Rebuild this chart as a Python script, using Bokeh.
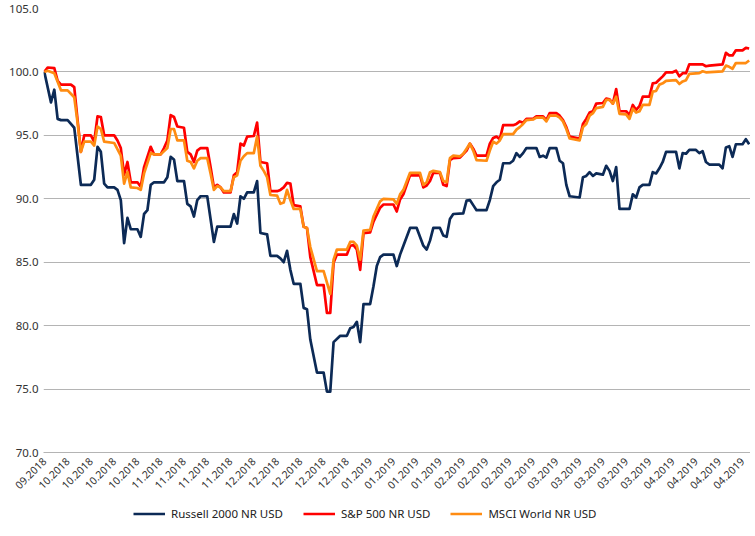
import math
from datetime import datetime, timedelta
from bokeh.plotting import figure
from bokeh.layouts import column
from bokeh.models import (Range1d, FixedTicker, DatetimeTickFormatter, NumeralTickFormatter,
                          Legend, LegendItem, ColumnDataSource)
from bokeh.embed import file_html
from bokeh.resources import INLINE

START = datetime(2018, 9, 30)

# ---- data (day offset from START, index level) ----
russell_days = [0, 2, 3, 4, 5, 7, 8, 9, 11, 14, 15, 16, 17, 18, 19, 21, 22, 23, 24, 25, 26, 28, 29, 30,
                31, 32, 33, 36, 37, 38, 39, 40, 42, 43, 44, 45, 46, 47, 49, 51, 52, 56, 57, 58, 59, 60,
                61, 63, 64, 65, 67, 68, 70, 71, 72, 73, 74, 75, 77, 78, 79, 80, 82, 84, 85, 86, 87, 89,
                91, 92, 93, 94, 95, 96, 98, 99, 100, 101, 102, 105, 106, 107, 108, 110, 112, 114, 115,
                116, 117, 119, 120, 121, 122, 123, 126, 127, 128, 129, 130, 133, 134, 135, 136, 137, 138,
                140, 141, 142, 143, 144, 145, 148, 149, 150, 151, 152, 154, 155, 156, 157, 158, 161, 162,
                163, 164, 165, 166, 168, 169, 170, 171, 172, 173, 176, 177, 178, 179, 180, 182, 183, 184,
                185, 186, 187, 190, 191, 192, 193, 194, 196, 197, 198, 199, 200, 203, 204, 205, 206, 207,
                208, 210, 211, 212]
russell_vals = [100.0, 97.6, 98.6, 96.3, 96.2, 96.2, 95.9, 95.6, 91.1, 91.1, 91.5, 94.1, 93.7, 91.2, 90.9,
                90.9, 90.7, 89.9, 86.5, 88.5, 87.6, 87.6, 87.0, 88.8, 89.1, 91.1, 91.3, 91.3, 91.7, 93.3,
                93.1, 91.4, 91.4, 89.6, 89.4, 88.6, 89.9, 90.2, 90.2, 86.6, 87.8, 87.8, 88.8, 88.05, 90.2,
                90.0, 90.5, 90.5, 91.4, 87.3, 87.2, 85.5, 85.5, 85.3, 85.0, 85.9, 84.4, 83.3, 83.3, 81.4,
                81.3, 78.9, 76.3, 76.3, 74.8, 74.8, 78.7, 79.2, 79.2, 79.8, 79.9, 80.3, 78.7, 81.7, 81.7,
                83.1, 84.7, 85.4, 85.6, 85.6, 84.7, 85.6, 86.3, 87.7, 87.7, 86.3, 86.0, 86.7, 87.7, 87.7,
                87.1, 87.0, 88.4, 88.8, 88.85, 89.85, 89.9, 89.5, 89.1, 89.1, 89.9, 91.0, 91.3, 91.5, 92.8,
                92.8, 93.0, 93.6, 93.3, 93.6, 94.0, 94.0, 93.3, 93.4, 93.25, 94.0, 94.0, 93.0, 92.8, 91.1,
                90.2, 90.1, 91.7, 91.8, 92.1, 91.8, 92.0, 91.9, 92.6, 92.2, 91.4, 92.5, 89.2, 89.2, 90.35,
                90.1, 90.9, 91.1, 91.1, 92.1, 92.0, 92.4, 92.9, 93.7, 93.7, 92.4, 93.6, 93.55, 93.85, 93.85,
                93.6, 93.75, 92.9, 92.7, 92.7, 92.4, 94.05, 94.15, 93.3, 94.3, 94.3, 94.7, 94.3]

sp500_days = [0, 1, 3, 4, 5, 8, 9, 10, 11, 12, 14, 15, 16, 17, 18, 21, 22, 23, 24, 25, 26, 28, 29, 30,
              32, 33, 35, 36, 37, 38, 39, 40, 42, 43, 44, 45, 46, 47, 49, 50, 51, 52, 53, 54, 56, 57, 58,
              59, 60, 61, 63, 64, 65, 67, 68, 70, 71, 72, 73, 74, 75, 77, 78, 79, 80, 82, 84, 85, 86, 87,
              88, 91, 92, 93, 94, 95, 96, 98, 99, 101, 102, 105, 106, 107, 108, 110, 113, 114, 115, 116,
              117, 119, 120, 121, 122, 123, 125, 127, 128, 129, 130, 133, 134, 135, 136, 137, 138, 141,
              142, 143, 144, 145, 147, 148, 150, 151, 152, 154, 155, 156, 157, 158, 161, 162, 163, 164,
              165, 166, 168, 169, 170, 171, 172, 173, 175, 176, 177, 178, 179, 180, 182, 183, 184, 185,
              186, 187, 189, 190, 191, 192, 193, 194, 198, 199, 200, 204, 205, 206, 207, 208, 210, 211, 212]
sp500_vals = [100.0, 100.35, 100.3, 99.3, 99.0, 99.0, 98.8, 96.2, 93.7, 95.0, 95.0, 94.5, 96.5, 96.45, 95.0,
              95.0, 94.6, 94.0, 91.9, 92.9, 91.3, 91.3, 90.95, 92.5, 94.1, 93.5, 93.5, 94.0, 94.6, 96.6,
              96.45, 95.7, 95.6, 93.7, 93.5, 92.9, 93.8, 94.0, 94.0, 92.5, 90.9, 91.1, 90.9, 90.5, 90.5,
              91.85, 92.1, 94.35, 94.2, 94.9, 94.95, 96.0, 92.9, 92.8, 90.6, 90.6, 90.7, 90.9, 91.25, 91.2,
              89.5, 89.4, 87.8, 87.7, 85.4, 83.2, 83.2, 81.0, 81.0, 84.95, 85.6, 85.6, 86.3, 86.35, 86.0,
              84.4, 87.3, 87.35, 88.2, 89.3, 89.55, 89.55, 89.0, 89.95, 90.35, 91.85, 91.85, 90.9, 91.05,
              91.4, 92.05, 92.05, 91.1, 91.0, 93.05, 93.2, 93.25, 93.8, 94.35, 93.95, 93.4, 93.4, 94.35,
              94.8, 94.9, 94.7, 95.8, 95.8, 95.9, 96.1, 96.0, 96.3, 96.3, 96.5, 96.5, 96.2, 96.75, 96.75,
              96.55, 96.2, 95.65, 94.9, 94.75, 95.9, 96.3, 96.8, 96.9, 97.5, 97.55, 97.9, 97.85, 97.5,
              98.65, 96.9, 96.9, 96.6, 97.4, 97.0, 97.3, 98.05, 98.05, 99.1, 99.15, 99.4, 99.65, 99.97,
              99.97, 100.1, 99.65, 99.9, 99.9, 100.6, 100.6, 100.45, 100.5, 100.6, 101.5, 101.3, 101.3,
              101.7, 101.7, 101.9, 101.85]

msci_days = [0, 1, 2, 3, 5, 7, 9, 10, 11, 12, 14, 15, 16, 17, 18, 21, 23, 24, 25, 26, 28, 29, 30, 32,
             33, 35, 37, 38, 39, 40, 42, 43, 44, 45, 46, 47, 49, 50, 51, 52, 53, 54, 56, 57, 58, 59, 60,
             61, 63, 64, 65, 66, 67, 68, 70, 71, 72, 73, 74, 75, 77, 78, 79, 80, 82, 84, 86, 87, 88, 91,
             92, 93, 94, 95, 96, 98, 99, 101, 102, 105, 106, 107, 108, 110, 113, 114, 115, 116, 117, 119,
             120, 121, 122, 123, 125, 126, 127, 128, 129, 130, 133, 134, 135, 136, 137, 138, 141, 142,
             143, 144, 145, 147, 148, 150, 151, 152, 154, 155, 156, 157, 158, 161, 162, 163, 164, 165,
             166, 168, 169, 170, 171, 172, 173, 175, 176, 177, 178, 179, 180, 182, 183, 184, 185, 186,
             187, 190, 191, 192, 193, 194, 197, 198, 199, 204, 205, 206, 207, 208, 211, 212]
msci_vals = [100.0, 100.1, 100.0, 99.9, 98.55, 98.55, 98.0, 96.0, 93.7, 94.5, 94.5, 94.2, 95.7, 95.5, 94.5,
             94.4, 93.4, 91.2, 92.1, 90.9, 90.85, 90.7, 92.0, 93.6, 93.5, 93.5, 94.0, 95.5, 95.5, 94.6,
             94.6, 93.0, 92.9, 92.4, 93.0, 93.2, 93.2, 92.0, 90.7, 91.0, 90.9, 90.6, 90.6, 91.7, 91.85,
             93.0, 93.35, 93.6, 93.6, 94.9, 92.6, 92.2, 91.7, 90.3, 90.25, 89.6, 89.7, 90.7, 89.9, 89.2,
             89.2, 87.8, 87.7, 86.2, 84.3, 84.3, 82.5, 85.2, 86.0, 86.0, 86.6, 86.6, 86.3, 85.2, 87.5,
             87.55, 88.6, 89.8, 90.0, 89.95, 89.6, 90.35, 90.7, 92.05, 92.05, 91.1, 91.3, 92.1, 92.2, 92.1,
             91.4, 91.3, 93.2, 93.4, 93.35, 93.55, 93.95, 94.35, 93.8, 93.05, 93.0, 93.8, 94.5, 94.35,
             94.6, 95.1, 95.1, 95.45, 95.65, 95.9, 96.2, 96.25, 96.4, 96.4, 96.1, 96.55, 96.55, 96.4,
             96.1, 95.5, 94.75, 94.6, 95.65, 95.9, 96.55, 96.75, 97.15, 97.25, 97.8, 97.8, 97.5, 98.05,
             96.7, 96.65, 96.3, 97.1, 96.8, 96.9, 97.4, 97.4, 98.45, 98.5, 99.0, 99.1, 99.3, 99.35, 99.05,
             99.25, 99.35, 99.85, 99.9, 100.05, 99.97, 100.05, 100.5, 100.4, 100.25, 100.7, 100.7, 100.9]

series_names = ["Russell 2000 NR USD", "S&P 500 NR USD", "MSCI World NR USD"]
series_colors = ["#0c2a56", "#ff0000", "#ff8c12"]
y_ticks = [70, 75, 80, 85, 90, 95, 100, 105]
x_tick_days = list(range(0, 211, 7))

FONT = "Noto Sans"
W = 750
LEFT = 43


def to_dates(days):
    return [START + timedelta(days=d) for d in days]


def ms(dt):
    return (dt - datetime(1970, 1, 1)).total_seconds() * 1000.0


sources = [ColumnDataSource(dict(x=to_dates(d), y=v))
           for d, v in [(russell_days, russell_vals), (sp500_days, sp500_vals), (msci_days, msci_vals)]]

# ---------------- main chart ----------------
p = figure(width=W, height=496, x_axis_type="datetime", output_backend="svg",
           toolbar_location=None, min_border_left=LEFT, min_border_right=0, min_border_top=8,
           min_border_bottom=44)
p.x_range = Range1d(ms(START - timedelta(hours=6)), ms(START + timedelta(days=212.4)))
p.y_range = Range1d(70, 105)

for src, col in zip(sources, series_colors):
    p.line("x", "y", source=src, line_color=col, line_width=2.7, line_join="round")

p.outline_line_color = None
p.background_fill_color = "white"
p.border_fill_color = "white"

p.xgrid.grid_line_color = None
p.ygrid.grid_line_color = "#b4b4b4"
p.ygrid.grid_line_width = 1

p.yaxis.ticker = FixedTicker(ticks=y_ticks)
p.yaxis.formatter = NumeralTickFormatter(format="0.0")
p.yaxis.axis_line_color = None
p.yaxis.major_tick_line_color = None
p.yaxis.minor_tick_line_color = None
p.yaxis.major_tick_out = 0
p.yaxis.major_tick_in = 0
p.yaxis.major_label_standoff = 5
p.yaxis.major_label_text_font = FONT
p.yaxis.major_label_text_font_size = "11.5px"
p.yaxis.major_label_text_color = "#333333"

p.xaxis.ticker = FixedTicker(ticks=[ms(START + timedelta(days=d)) for d in x_tick_days])
fmt = "%m.%Y"
p.xaxis.formatter = DatetimeTickFormatter(milliseconds=fmt, seconds=fmt, minsec=fmt, minutes=fmt,
                                          hourmin=fmt, hours=fmt, days=fmt, months=fmt, years=fmt)
p.xaxis.axis_line_color = "#b4b4b4"
p.xaxis.major_tick_line_color = None
p.xaxis.minor_tick_line_color = None
p.xaxis.major_tick_out = 0
p.xaxis.major_tick_in = 0
p.xaxis.major_label_orientation = math.pi / 4
p.xaxis.major_label_standoff = 7
p.xaxis.major_label_text_font = FONT
p.xaxis.major_label_text_font_size = "10.5px"
p.xaxis.major_label_text_color = "#333333"

# ---------------- legend strip (same data, outside its visible range) ----------------
lg = figure(width=W, height=34, output_backend="svg", toolbar_location=None,
            x_axis_location=None, y_axis_location=None, min_border_left=LEFT,
            min_border_right=0, min_border_top=0, min_border_bottom=0,
            x_range=Range1d(0, 1), y_range=Range1d(0, 1))
lg.outline_line_color = None
lg.xgrid.visible = False
lg.ygrid.visible = False
items = []
for src, name, col in zip(sources, series_names, series_colors):
    r = lg.line("x", "y", source=src, line_color=col, line_width=2.7)
    items.append(LegendItem(label=name, renderers=[r]))
legend = Legend(items=items, orientation="horizontal", location="left", border_line_color=None,
                background_fill_alpha=0, label_text_font=FONT, label_text_font_size="11.5px",
                label_text_color="#222222", glyph_width=32, glyph_height=14, label_standoff=6,
                spacing=20, padding=2, margin=90)
lg.add_layout(legend)

layout = column(p, lg, spacing=0)
open("out.html", "w").write(file_html(layout, INLINE))
